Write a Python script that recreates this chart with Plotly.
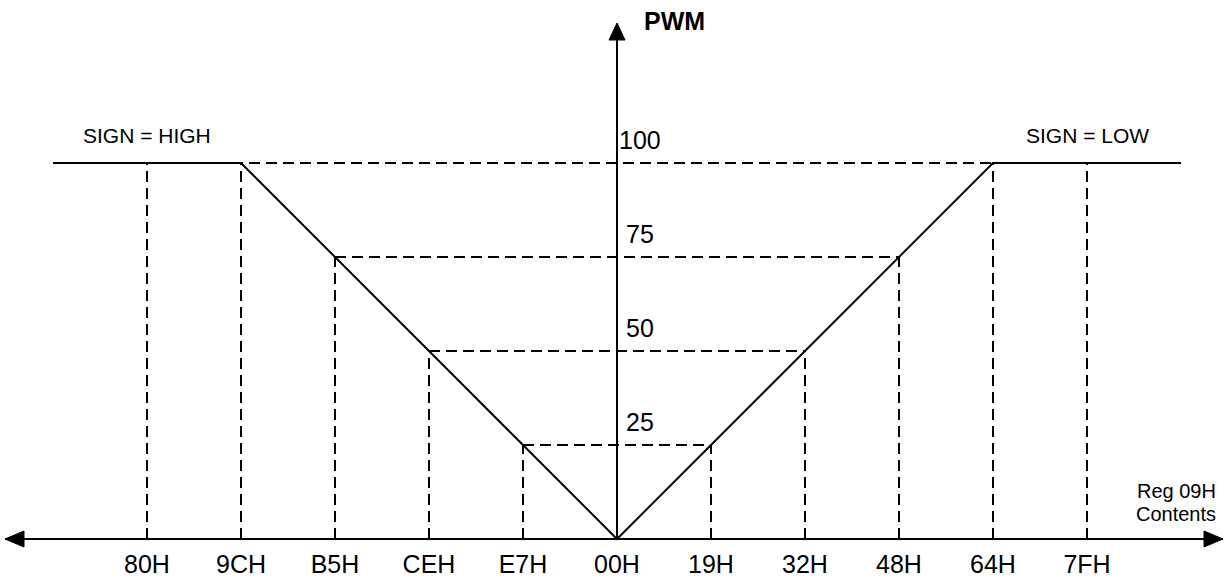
import plotly.graph_objects as go

# ---- data ----
categories = ["80H", "9CH", "B5H", "CEH", "E7H", "00H", "19H", "32H", "48H", "64H", "7FH"]
pwm = [100, 100, 75, 50, 25, 0, 25, 50, 75, 100, 100]
pwm_levels = [25, 50, 75, 100]
sign_labels = ["SIGN = HIGH", "SIGN = LOW"]

# ---- geometry (pixel layout of the page) ----
W, H = 1227, 584
X0_PX, PX_PER_STEP = 617, 94.0
Y0_PX, PX_PER_PWM = 539, 3.76
FONT = "Liberation Sans, Arial, Helvetica, sans-serif"

n = len(categories)
mid = n // 2
idx = [i - mid for i in range(n)]

x_range = [(0 - X0_PX) / PX_PER_STEP, (W - X0_PX) / PX_PER_STEP]
y_range = [(Y0_PX - H) / PX_PER_PWM, Y0_PX / PX_PER_PWM]

fig = go.Figure()

# dashed guides: verticals from axis to the curve
vx, vy = [], []
for x, p in zip(idx, pwm):
    if p > 0:
        vx += [x, x, None]
        vy += [0, p, None]
# dashed guides: horizontals between matching points on both sides
for lvl in pwm_levels:
    xs = [x for x, p in zip(idx, pwm) if p == lvl]
    vx += [min(xs), max(xs), None]
    vy += [lvl, lvl, None]
fig.add_trace(go.Scatter(x=vx, y=vy, mode="lines", cliponaxis=False,
                         line=dict(color="black", width=2, dash="11px,6px"),
                         hoverinfo="skip", showlegend=False))

# solid transfer curve, flat parts extended by one step on each side
cx = [idx[0] - 1] + idx + [idx[-1] + 1]
cy = [pwm[0]] + pwm + [pwm[-1]]
fig.add_trace(go.Scatter(x=cx, y=cy, mode="lines", cliponaxis=False,
                         line=dict(color="black", width=2),
                         hoverinfo="skip", showlegend=False))

shapes = []
# horizontal axis with arrowheads on both ends
xl_paper, xr_paper = 5 / W, 1223 / W
shapes.append(dict(type="line", xref="paper", yref="y", x0=xl_paper, x1=xr_paper, y0=0, y1=0,
                   line=dict(color="black", width=2)))
shapes.append(dict(type="path", xref="paper", yref="y", xsizemode="pixel", ysizemode="pixel",
                   xanchor=xl_paper, yanchor=0, path="M0,0 L19,8 L19,-8 Z",
                   fillcolor="black", line=dict(color="black", width=1)))
shapes.append(dict(type="path", xref="paper", yref="y", xsizemode="pixel", ysizemode="pixel",
                   xanchor=xr_paper, yanchor=0, path="M0,0 L-19,8 L-19,-8 Z",
                   fillcolor="black", line=dict(color="black", width=1)))
# vertical PWM axis with arrowhead
y_tip = (Y0_PX - 23) / PX_PER_PWM
shapes.append(dict(type="line", xref="x", yref="y", x0=0, x1=0, y0=0, y1=y_tip - 4,
                   line=dict(color="black", width=2)))
shapes.append(dict(type="path", xref="x", yref="y", xsizemode="pixel", ysizemode="pixel",
                   xanchor=0, yanchor=y_tip, path="M0,0 L-8,-17 L8,-17 Z",
                   fillcolor="black", line=dict(color="black", width=1)))

annotations = []
annotations.append(dict(text="<b>PWM</b>", xref="paper", yref="paper", x=674 / W, y=1 - 21 / H,
                        showarrow=False, xanchor="center", yanchor="middle",
                        font=dict(family=FONT, size=25, color="black")))
for lvl in pwm_levels:
    annotations.append(dict(text=str(lvl), xref="x", yref="y", x=0, y=lvl, xshift=23, yshift=23,
                            showarrow=False, xanchor="center", yanchor="middle",
                            font=dict(family=FONT, size=25, color="black")))
annotations.append(dict(text=sign_labels[0], xref="x", yref="y", x=idx[0], y=pwm[0], yshift=28,
                        showarrow=False, xanchor="center", yanchor="middle",
                        font=dict(family=FONT, size=21, color="black")))
annotations.append(dict(text=sign_labels[1], xref="x", yref="y", x=idx[-1], y=pwm[-1], yshift=28,
                        showarrow=False, xanchor="center", yanchor="middle",
                        font=dict(family=FONT, size=21, color="black")))
annotations.append(dict(text="Reg 09H", xref="paper", yref="paper", x=1176 / W, y=1 - 491 / H,
                        showarrow=False, xanchor="center", yanchor="middle",
                        font=dict(family=FONT, size=20, color="black")))
annotations.append(dict(text="Contents", xref="paper", yref="paper", x=1176 / W, y=1 - 514 / H,
                        showarrow=False, xanchor="center", yanchor="middle",
                        font=dict(family=FONT, size=20, color="black")))

fig.update_layout(
    width=W, height=H,
    margin=dict(l=0, r=0, t=0, b=0),
    paper_bgcolor="white", plot_bgcolor="white",
    shapes=shapes, annotations=annotations,
    xaxis=dict(range=x_range, tickvals=idx, ticktext=categories,
               anchor="free", position=(H - Y0_PX) / H,
               showgrid=False, zeroline=False, showline=False, ticks="",
               ticklabelstandoff=8, fixedrange=True,
               tickfont=dict(family=FONT, size=25, color="black")),
    yaxis=dict(range=y_range, visible=False, showgrid=False, zeroline=False, fixedrange=True),
)

fig.write_html("out.html", config={"displayModeBar": False, "staticPlot": True},
               post_script="document.body.style.margin='0';document.body.style.overflow='hidden';")
